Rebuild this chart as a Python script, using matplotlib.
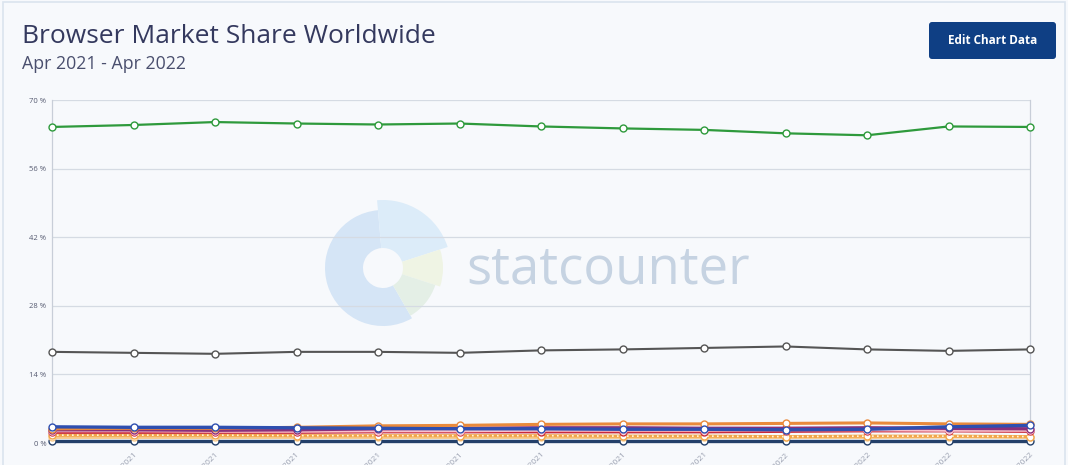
import matplotlib
matplotlib.use("Agg")
import matplotlib.pyplot as plt
from matplotlib.patches import Wedge, FancyBboxPatch, Rectangle
import numpy as np

# ---------------- data ----------------
months = ["Apr 2021", "May 2021", "June 2021", "July 2021", "Aug 2021", "Sept 2021",
          "Oct 2021", "Nov 2021", "Dec 2021", "Jan 2022", "Feb 2022", "Mar 2022", "Apr 2022"]

chrome  = [64.5, 64.9, 65.5, 65.2, 65.0, 65.2, 64.6, 64.2, 63.9, 63.2, 62.8, 64.6, 64.5]
safari  = [18.6, 18.4, 18.2, 18.6, 18.6, 18.4, 18.9, 19.1, 19.4, 19.7, 19.1, 18.8, 19.1]
edge    = [3.3, 3.2, 3.2, 3.1, 3.0, 2.9, 2.9, 2.8, 2.8, 2.7, 2.8, 3.3, 3.6]
firefox = [2.9, 3.0, 3.0, 3.2, 3.5, 3.6, 3.8, 3.9, 3.9, 4.0, 4.1, 3.9, 3.8]
samsung = [2.7, 2.7, 2.6, 2.7, 2.9, 3.0, 3.1, 3.1, 3.0, 3.0, 3.1, 3.0, 2.9]
uc      = [2.5, 2.5, 2.4, 2.4, 2.5, 2.5, 2.6, 2.6, 2.6, 2.7, 2.7, 2.6, 2.6]
opera   = [2.2, 2.2, 2.2, 2.2, 2.3, 2.3, 2.3, 2.3, 2.3, 2.4, 2.5, 2.5, 2.4]
ie      = [1.6, 1.6, 1.6, 1.5, 1.5, 1.5, 1.5, 1.4, 1.4, 1.3, 1.4, 1.4, 1.3]
yandex  = [1.2, 1.2, 1.2, 1.2, 1.2, 1.2, 1.2, 1.2, 1.2, 1.2, 1.2, 1.3, 1.2]
android = [0.4, 0.4, 0.4, 0.4, 0.4, 0.4, 0.4, 0.4, 0.4, 0.4, 0.4, 0.4, 0.4]

y_ticks = [0, 14, 28, 42, 56, 70]
y_tick_labels = ["0 %", "14 %", "28 %", "42 %", "56 %", "70 %"]

# ---------------- figure ----------------
W, H = 1068, 465
BG = "#f7f9fc"
fig = plt.figure(figsize=(W / 100, H / 100), dpi=100, facecolor=BG)

# overlay axes in pixel coordinates (y measured upward) for decorations
deco = fig.add_axes([0, 0, 1, 1], zorder=0)
deco.set_xlim(0, W)
deco.set_ylim(0, H)
deco.axis("off")
deco.patch.set_alpha(0)

def Y(py):  # pixel row from top -> upward coordinate
    return H - py

# card border
deco.add_patch(Rectangle((3, -10), W - 6, Y(2) + 10, fill=False, edgecolor="#dbe4ee", lw=1.2))

# statcounter watermark logo
cx, cy = 383, Y(268)
deco.add_patch(Wedge((cx, cy), 58, 95, 300, width=38, facecolor="#d5e5f6", edgecolor="none"))
deco.add_patch(Wedge((cx, cy), 68, 18, 95, width=48, facecolor="#dcecf9", edgecolor="none"))
deco.add_patch(Wedge((cx, cy), 60, -18, 18, width=40, facecolor="#eff4e4", edgecolor="none"))
deco.add_patch(Wedge((cx, cy), 55, -60, -18, width=35, facecolor="#e4efe6", edgecolor="none"))
deco.text(466, Y(270), "statcounter", fontsize=38, family="Open Sans", color="#c6d3e2",
          va="center", ha="left")

# title / subtitle
deco.text(22, Y(37), "Browser Market Share Worldwide", fontsize=19, family="Open Sans",
          color="#34395e", va="center", ha="left")
deco.text(22, Y(64), "Apr 2021 - Apr 2022", fontsize=12.8, family="Open Sans",
          color="#4a4f6e", va="center", ha="left")

# button
deco.add_patch(FancyBboxPatch((929, Y(59)), 127, 37, boxstyle="round,pad=0,rounding_size=3",
                              facecolor="#0f3f84", edgecolor="none"))
deco.text(992.5, Y(41), "Edit Chart Data", fontsize=8.5, family="Open Sans", weight="bold",
          color="white", va="center", ha="center")

# ---------------- main chart ----------------
left, right = 52 / W, 1030 / W
bottom, top = 1 - 443 / H, 1 - 100 / H
ax = fig.add_axes([left, bottom, right - left, top - bottom], zorder=1)
ax.patch.set_alpha(0)

x = np.arange(len(months))

def draw(vals, color, lw=2.2, ms=5, z=3, ls="-"):
    ax.plot(x, vals, color=color, lw=lw, ls=ls, marker="o", ms=ms, mfc="white",
            mec=color, mew=1.0, zorder=z, clip_on=False)

draw(android, "#24406a", lw=2.4, z=3)
draw(yandex, "#f6c98a", lw=2.6, z=3)
draw(ie, "#f2a64a", lw=2.2, z=4)
ax.plot(x, ie, color="#fff4dc", lw=1.2, ls=(0, (1, 2)), zorder=4.5, clip_on=False)
draw(opera, "#c8283a", lw=2.4, z=5)
draw(uc, "#f7c0cc", lw=2.2, z=5)
draw(samsung, "#8a2f7a", lw=2.4, z=5)
draw(firefox, "#e98a3c", lw=2.2, z=5)
draw(edge, "#2e4fb0", lw=2.4, z=5)
draw(safari, "#555555", lw=1.5, ms=5, z=6)
draw(chrome, "#2e9a3c", lw=1.6, ms=5, z=6)

ax.set_xlim(0, len(months) - 1)
ax.set_ylim(0, 70)
ax.set_yticks(y_ticks)
ax.set_yticklabels(y_tick_labels, fontsize=5.5, color="#555a70", family="Open Sans")
ax.grid(axis="y", color="#d5dbe3", lw=0.9)
ax.set_axisbelow(True)

ax.set_xticks(x[1:])
ax.set_xticklabels(months[1:], rotation=45, ha="right", rotation_mode="anchor",
                   fontsize=6, color="#9aa0b0", family="Open Sans")
ax.tick_params(axis="both", length=0, pad=4)
ax.tick_params(axis="x", pad=6)

for s in ["top", "bottom"]:
    ax.spines[s].set_visible(False)
for s in ["left", "right"]:
    ax.spines[s].set_color("#c8ced8")
    ax.spines[s].set_linewidth(0.9)

fig.savefig("out.png", dpi=100, facecolor=BG)
